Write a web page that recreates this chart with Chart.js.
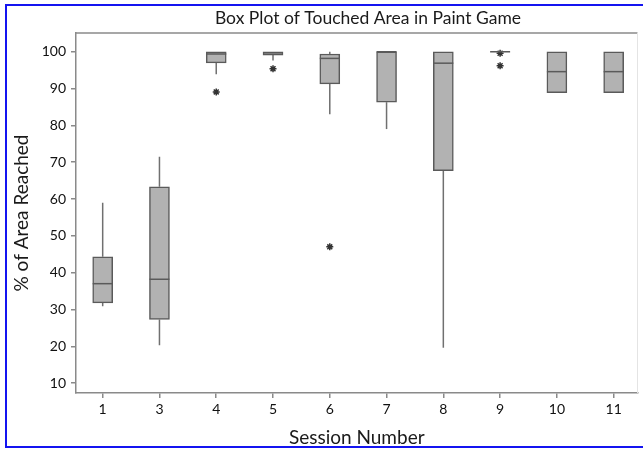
<!DOCTYPE html>
<html>
<head>
<meta charset="utf-8">
<title>Box Plot of Touched Area in Paint Game</title>
<script src="https://cdn.jsdelivr.net/npm/chart.js@4.4.1/dist/chart.umd.min.js"></script>
<style>
  html, body { margin: 0; padding: 0; background: #fff; overflow: hidden; }
  #wrap { position: relative; width: 643px; height: 449px; }
  #frame { position: absolute; left: 5px; top: 4px; width: 700px; height: 440px; border: 2px solid #1414f0; pointer-events: none; }
</style>
</head>
<body>
<div id="wrap">
  <canvas id="grafico"></canvas>
  <div id="frame"></div>
</div>
<script>
// valores
const sessions = ['1', '3', '4', '5', '6', '7', '8', '9', '10', '11'];
const q1Values = [31.8, 27.3, 97.0, 99.1, 91.3, 86.3, 67.7, 100, 88.9, 88.9];
const q3Values = [44.3, 63.3, 100, 100, 99.4, 100, 100, 100, 100, 100];
const medianValues = [37.0, 38.2, 99.4, 99.7, 98.2, 100, 96.9, 100, 94.6, 94.6];
const whiskerLow = [30.9, 20.3, 93.9, 97.6, 83.0, 79.0, 19.6, 100, 88.9, 88.9];
const whiskerHigh = [59.0, 71.5, 100, 100, 100, 100, 100, 100, 100, 100];
const outlierSession = [2, 3, 4, 7, 7];   // indice de la sesion
const outlierValues = [89.1, 95.4, 47.0, 99.6, 96.2];
const yTicks = [10, 20, 30, 40, 50, 60, 70, 80, 90, 100];

const positions = sessions.map((s, i) => i);
const gris = '#5a5a5a';

Chart.defaults.font.family = 'Lato, "Open Sans", sans-serif';

// bigotes, medianas, marco y titulo
const boxPlot = {
    id: 'boxPlot',
    beforeDatasetsDraw(chart) {
        const {ctx, scales: {x, y}} = chart;
        ctx.save();
        ctx.strokeStyle = '#707070';
        ctx.lineWidth = 1.5;
        positions.forEach(i => {
            const px = x.getPixelForValue(i);
            ctx.beginPath();
            ctx.moveTo(px, y.getPixelForValue(whiskerLow[i]));
            ctx.lineTo(px, y.getPixelForValue(q1Values[i]));
            ctx.moveTo(px, y.getPixelForValue(q3Values[i]));
            ctx.lineTo(px, y.getPixelForValue(whiskerHigh[i]));
            ctx.stroke();
        });
        ctx.restore();
    },
    afterDatasetsDraw(chart) {
        const {ctx, scales: {x, y}} = chart;
        ctx.save();
        ctx.strokeStyle = gris;
        ctx.lineWidth = 1.5;
        positions.forEach(i => {
            const px = x.getPixelForValue(i);
            const py = y.getPixelForValue(medianValues[i]);
            ctx.beginPath();
            ctx.moveTo(px - 10, py);
            ctx.lineTo(px + 10, py);
            ctx.stroke();
        });
        ctx.restore();
    },
    afterDraw(chart) {
        const {ctx, chartArea} = chart;
        ctx.save();
        ctx.strokeStyle = '#8a8a8a';
        ctx.lineWidth = 1.5;
        ctx.beginPath();
        ctx.moveTo(chartArea.left, chartArea.top);
        ctx.lineTo(chartArea.right, chartArea.top);
        ctx.stroke();
        ctx.strokeStyle = '#e4e4e4';
        ctx.lineWidth = 1;
        ctx.beginPath();
        ctx.moveTo(chartArea.right, chartArea.top);
        ctx.lineTo(chartArea.right, chartArea.bottom);
        ctx.stroke();

        ctx.fillStyle = '#1a1a1a';
        ctx.font = '17.5px ' + Chart.defaults.font.family;
        ctx.textAlign = 'center';
        ctx.textBaseline = 'middle';
        ctx.fillText('Box Plot of Touched Area in Paint Game', 368, 18);
        ctx.restore();
    }
};

const config = {
    data: {
        datasets: [{
            type: 'bar',
            data: positions.map(i => ({x: i, y: [q1Values[i], q3Values[i]]})),
            backgroundColor: '#b2b2b2',
            borderColor: gris,
            borderWidth: 1.5,
            borderSkipped: false,
            barThickness: 20
        }, {
            type: 'scatter',
            data: outlierSession.map((s, k) => ({x: s, y: outlierValues[k]})),
            pointStyle: 'star',
            radius: 3.5,
            borderColor: '#333',
            borderWidth: 1.5
        }]
    },
    options: {
        responsive: true,
        maintainAspectRatio: false,
        animation: false,
        layout: { padding: { top: 33, right: 3, left: 0, bottom: 0 } },
        plugins: {
            legend: { display: false },
            tooltip: { enabled: false }
        },
        scales: {
            x: {
                type: 'linear',
                min: -0.47,
                max: 9.42,
                offset: false,
                afterBuildTicks: scale => { scale.ticks = positions.map(v => ({value: v})); },
                afterFit: scale => { scale.height = 56; },
                ticks: {
                    callback: v => sessions[v],
                    color: '#111',
                    font: { size: 14 },
                    padding: 3,
                    maxRotation: 0
                },
                grid: { offset: false, drawOnChartArea: false, drawTicks: true, tickLength: 5, color: '#8a8a8a', lineWidth: 1.5 },
                border: { display: true, color: '#8a8a8a', width: 1.5 },
                title: { display: true, text: 'Session Number', color: '#1a1a1a', font: { size: 19 }, padding: 0 }
            },
            y: {
                type: 'linear',
                min: 7.3,
                max: 105.1,
                afterBuildTicks: scale => { scale.ticks = yTicks.map(v => ({value: v})); },
                afterFit: scale => { scale.width = 76; },
                ticks: { color: '#111', font: { size: 14 }, padding: 5 },
                grid: { drawOnChartArea: false, drawTicks: true, tickLength: 5, color: '#8a8a8a', lineWidth: 1.5 },
                border: { display: true, color: '#8a8a8a', width: 1.5 },
                title: { display: true, text: '% of Area Reached', color: '#1a1a1a', font: { size: 19 }, padding: { top: 10, bottom: 0 } }
            }
        }
    },
    plugins: [boxPlot]
};

const chart = new Chart(document.getElementById('grafico'), config);
</script>
</body>
</html>
